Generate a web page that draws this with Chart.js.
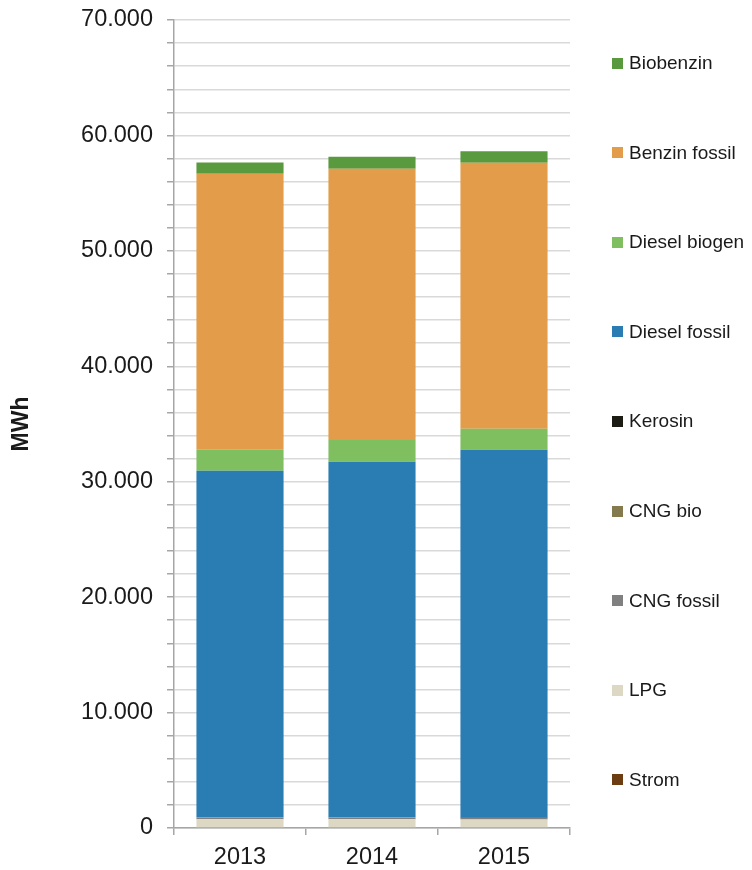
<!DOCTYPE html>
<html>
<head>
<meta charset="utf-8">
<script src="https://cdn.jsdelivr.net/npm/chart.js@4"></script>
<style>
  html, body { margin: 0; padding: 0; background: #fff; }
  #wrap { position: relative; width: 752px; height: 870px; }
  #legend { position: absolute; left: 0; top: 0; }
  .lg-item { position: absolute; left: 612px; display: flex; align-items: center;
    font-family: "Liberation Sans", Arial, sans-serif; font-size: 19px; color: #1a1a1a; white-space: nowrap; }
  .lg-box { width: 11px; height: 11px; margin-right: 6px; }
</style>
</head>
<body>
<div id="wrap">
  <canvas id="chart" width="752" height="870"></canvas>
  <div id="legend"></div>
</div>
<script>
// Jahre
const years = ['2013', '2014', '2015'];

// Werte in MWh
const strom = [0, 0, 0];
const lpg = [760, 760, 740];
const cngFossil = [150, 150, 130];
const cngBio = [20, 20, 20];
const kerosin = [0, 0, 40];
const dieselFossil = [30030, 30810, 31850];
const dieselBiogen = [1800, 1880, 1800];
const benzinFossil = [23910, 23500, 23050];
const biobenzin = [980, 1040, 1010];

const yTickLabels = ['0', '10.000', '20.000', '30.000', '40.000', '50.000', '60.000', '70.000'];

const series = [
  { label: 'Strom', data: strom, color: '#6b3d10' },
  { label: 'LPG', data: lpg, color: '#ddd8c4' },
  { label: 'CNG fossil', data: cngFossil, color: '#808080' },
  { label: 'CNG bio', data: cngBio, color: '#857a4e' },
  { label: 'Kerosin', data: kerosin, color: '#1c1c14' },
  { label: 'Diesel fossil', data: dieselFossil, color: '#2a7db3' },
  { label: 'Diesel biogen', data: dieselBiogen, color: '#7fbf60' },
  { label: 'Benzin fossil', data: benzinFossil, color: '#e39d4a' },
  { label: 'Biobenzin', data: biobenzin, color: '#5a9a3e' }
];

const font = "'Liberation Sans', Arial, sans-serif";

const chart = new Chart(document.getElementById('chart'), {
  type: 'bar',
  data: {
    labels: years,
    datasets: series.map(s => ({
      label: s.label,
      data: s.data,
      backgroundColor: s.color,
      borderWidth: 0,
      categoryPercentage: 1,
      barPercentage: 0.66
    }))
  },
  options: {
    responsive: false,
    animation: false,
    layout: { padding: { top: 20, right: 182, bottom: 0, left: 0 } },
    plugins: { legend: { display: false }, tooltip: { enabled: false } },
    scales: {
      x: {
        stacked: true,
        grid: { drawOnChartArea: false, offset: true, tickLength: 7, color: '#a6a6a6', lineWidth: 1.5 },
        border: { color: '#a6a6a6', width: 1.5 },
        ticks: { color: '#1a1a1a', font: { family: font, size: 23.5 }, padding: 8 },
        afterFit: scale => { scale.height = 42; }
      },
      y: {
        stacked: true,
        min: 0,
        max: 70000,
        grid: { color: '#d9d9d9', lineWidth: 1.5, tickLength: 7, tickColor: '#a6a6a6' },
        border: { color: '#a6a6a6', width: 1.5 },
        ticks: {
          stepSize: 2000,
          autoSkip: false,
          color: '#1a1a1a',
          font: { family: font, size: 23.5 },
          padding: 14,
          callback: v => (v % 10000 === 0 ? yTickLabels[v / 10000] : '')
        },
        title: { display: true, text: 'MWh', color: '#1a1a1a', font: { family: font, size: 23, weight: 'bold' }, padding: { top: 8, bottom: 0 } },
        afterFit: scale => {
          scale.width = 174;
          scale.paddingTop = 0;
          scale.paddingBottom = 0;
        }
      }
    }
  }
});

// Legende rechts, umgekehrte Reihenfolge
const legend = document.getElementById('legend');
chart.data.datasets.slice().reverse().forEach((ds, i) => {
  const item = document.createElement('div');
  item.className = 'lg-item';
  item.style.top = (63 + i * 89.6 - 11) + 'px';
  item.innerHTML = `<span class="lg-box" style="background:${ds.backgroundColor}"></span>${ds.label}`;
  legend.appendChild(item);
});
</script>
</body>
</html>
